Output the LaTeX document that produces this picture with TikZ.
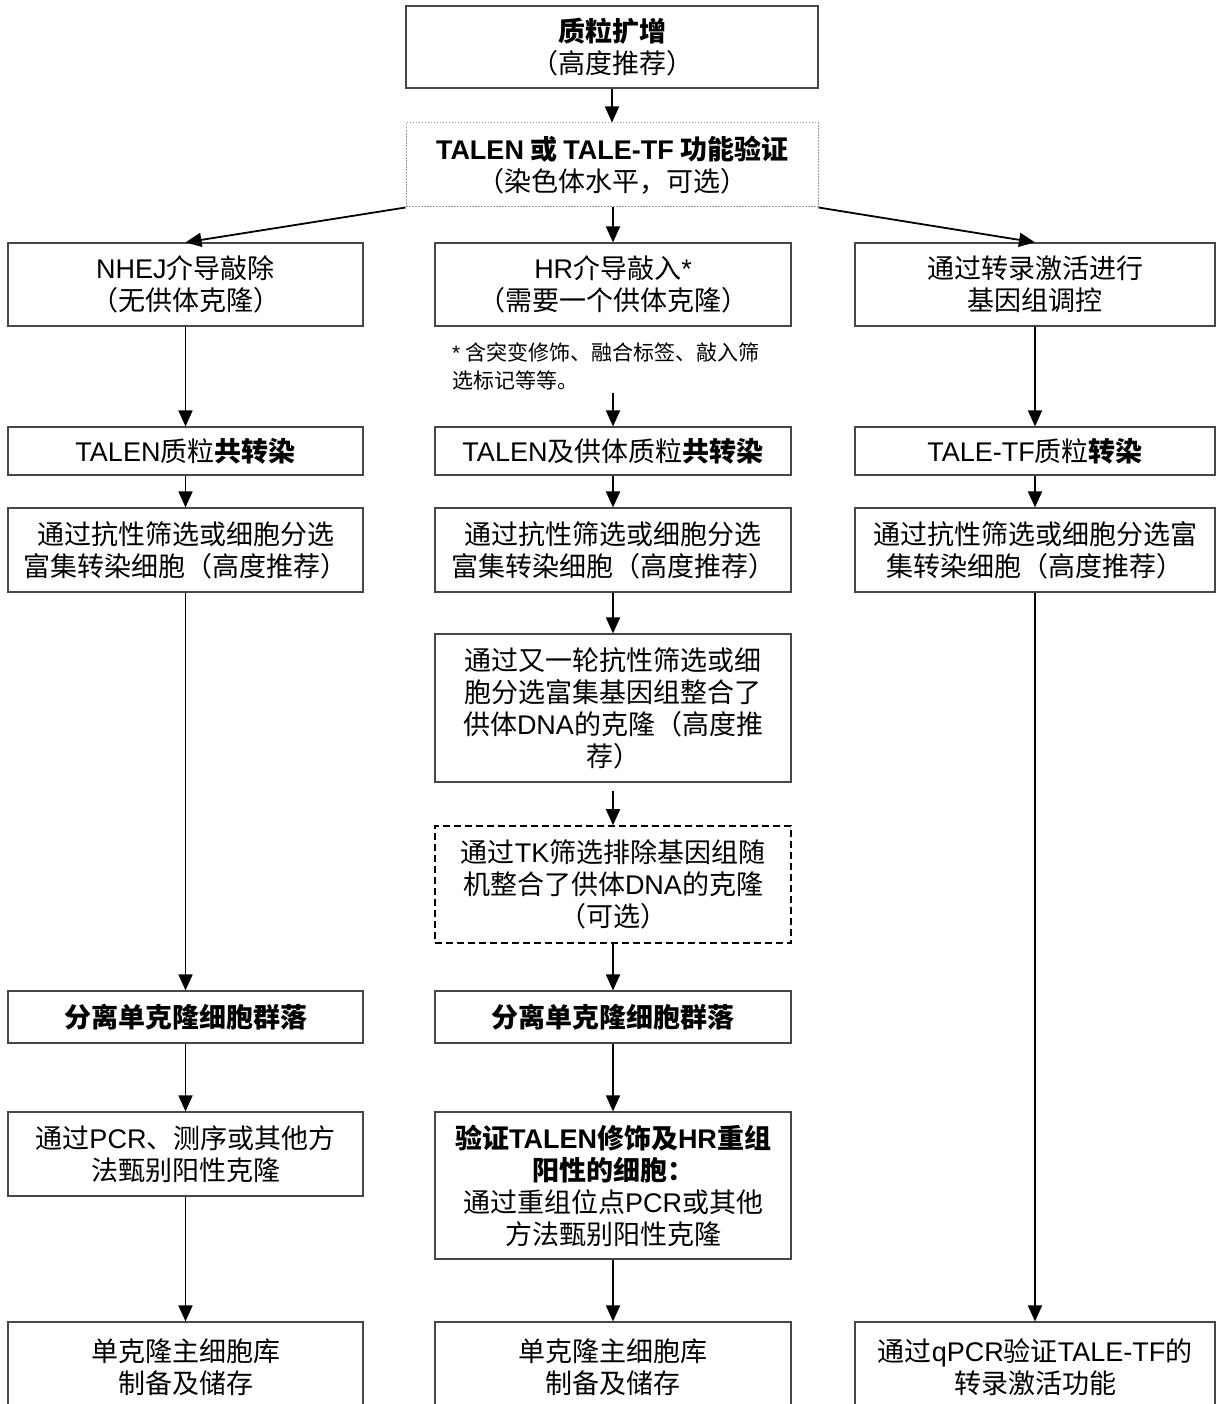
\documentclass[tikz,border=0pt]{standalone}
\usepackage{fontspec}
\newfontfamily\zh{Noto Sans CJK SC}
\newfontfamily\en{Liberation Sans}
\usetikzlibrary{arrows.meta}
\tikzset{
  box/.style={draw=black!72, line width=1.2pt, rectangle, inner sep=0pt, align=center,
    font=\zh\fontsize{27}{32}\selectfont, text=black},
  dotbox/.style={box, draw=black!40, line width=1pt, dash pattern=on 1.5pt off 1.5pt},
  dashbox/.style={box, draw=black, line width=1.6pt, dash pattern=on 7pt off 4pt},
  colL/.style={minimum width=355pt},
  colC/.style={minimum width=356pt},
  colR/.style={minimum width=360pt},
  notetext/.style={inner sep=0pt, align=left, font=\zh\fontsize{21}{28}\selectfont, anchor=west},
  arr/.style={-{Triangle[width=14pt,length=16pt]}, line width=1.8pt, black},
}
\begin{document}
\begin{tikzpicture}[x=1pt,y=-1pt]
\useasboundingbox (0,0) rectangle (1220,1404);
\fill[white] (0,0) rectangle (1220,1404);
\clip (0,0) rectangle (1220,1404);

% top
\node[box, minimum width=412pt, minimum height=82pt] (top) at (612,47)
  {\textbf{质粒扩增}\\（高度推荐）};
\node[dotbox, minimum width=412pt, minimum height=84pt] (dot) at (612,165)
  {\textbf{{\en TALEN} 或 {\en TALE-TF} 功能验证}\\（染色体水平，可选）};

% row 1
\node[box, colL, minimum height=83pt] (L1) at (185.5,284.5) {{\en NHEJ}介导敲除\\（无供体克隆）};
\node[box, colC, minimum height=83pt] (C1) at (613,284.5) {{\en HR}介导敲入{\en *}\\（需要一个供体克隆）};
\node[box, colR, minimum height=83pt] (R1) at (1035,284.5) {通过转录激活进行\\基因组调控};

\node[notetext] (note) at (452,366) {{\en *} 含突变修饰、融合标签、敲入筛\\选标记等等。};

% row 2
\node[box, colL, minimum height=48pt] (L2) at (185.5,451) {{\en TALEN}质粒\textbf{共转染}};
\node[box, colC, minimum height=48pt] (C2) at (613,451) {{\en TALEN}及供体质粒\textbf{共转染}};
\node[box, colR, minimum height=48pt] (R2) at (1035,451) {{\en TALE-TF}质粒\textbf{转染}};

% row 3
\node[box, colL, minimum height=84pt] (L3) at (185.5,550) {通过抗性筛选或细胞分选\\富集转染细胞（高度推荐）};
\node[box, colC, minimum height=84pt] (C3) at (613,550) {通过抗性筛选或细胞分选\\富集转染细胞（高度推荐）};
\node[box, colR, minimum height=84pt] (R3) at (1035,550) {通过抗性筛选或细胞分选富\\集转染细胞（高度推荐）};

% centre extras
\node[box, colC, minimum height=148pt] (C4) at (613,708)
  {通过又一轮抗性筛选或细\\胞分选富集基因组整合了\\供体{\en DNA}的克隆（高度推\\荐）};
\node[dashbox, colC, minimum height=117pt] (C5) at (613,884.5)
  {通过{\en TK}筛选排除基因组随\\机整合了供体{\en DNA}的克隆\\（可选）};

% row 6
\node[box, colL, minimum height=52pt] (L6) at (185.5,1017) {\textbf{分离单克隆细胞群落}};
\node[box, colC, minimum height=52pt] (C6) at (613,1017) {\textbf{分离单克隆细胞群落}};

% row 7
\node[box, colL, minimum height=84pt] (L7) at (185.5,1154) {通过{\en PCR}、测序或其他方\\法甄别阳性克隆};
\node[box, colC, minimum height=147pt] (C7) at (613,1185.5)
  {\textbf{验证{\en TALEN}修饰及{\en HR}重组}\\\textbf{阳性的细胞：}\\通过重组位点{\en PCR}或其他\\方法甄别阳性克隆};

% row 8 (cut by the page bottom)
\node[box, colL, minimum height=90pt] (L8) at (185.5,1367) {单克隆主细胞库\\制备及储存};
\node[box, colC, minimum height=90pt] (C8) at (613,1367) {单克隆主细胞库\\制备及储存};
\node[box, colR, minimum height=90pt] (R8) at (1035,1367) {通过{\en qPCR}验证{\en TALE-TF}的\\转录激活功能};

% connectors
\draw[arr] (top.south) -- (dot.north);
\draw[arr] (dot.south west) -- (L1.north);
\draw[arr] (dot.south -| C1.north) -- (C1.north);
\draw[arr] (dot.south east) -- (R1.north);

\draw[arr] (L1.south) -- (L2.north);
\draw[arr] ([yshift=-3pt]note.south -| C2.north) -- (C2.north);
\draw[arr] (R1.south) -- (R2.north);

\draw[arr] (L2.south) -- (L3.north);
\draw[arr] (C2.south) -- (C3.north);
\draw[arr] (R2.south) -- (R3.north);

\draw[arr] (L3.south) -- (L6.north);
\draw[arr] (C3.south) -- (C4.north);
\draw[arr] ([yshift=-8pt]C4.south) -- (C5.north);
\draw[arr] (C5.south) -- (C6.north);
\draw[arr] (R3.south) -- (R8.north);

\draw[arr] (L6.south) -- (L7.north);
\draw[arr] (C6.south) -- (C7.north);
\draw[arr] (L7.south) -- (L8.north);
\draw[arr] (C7.south) -- (C8.north);
\end{tikzpicture}
\end{document}
